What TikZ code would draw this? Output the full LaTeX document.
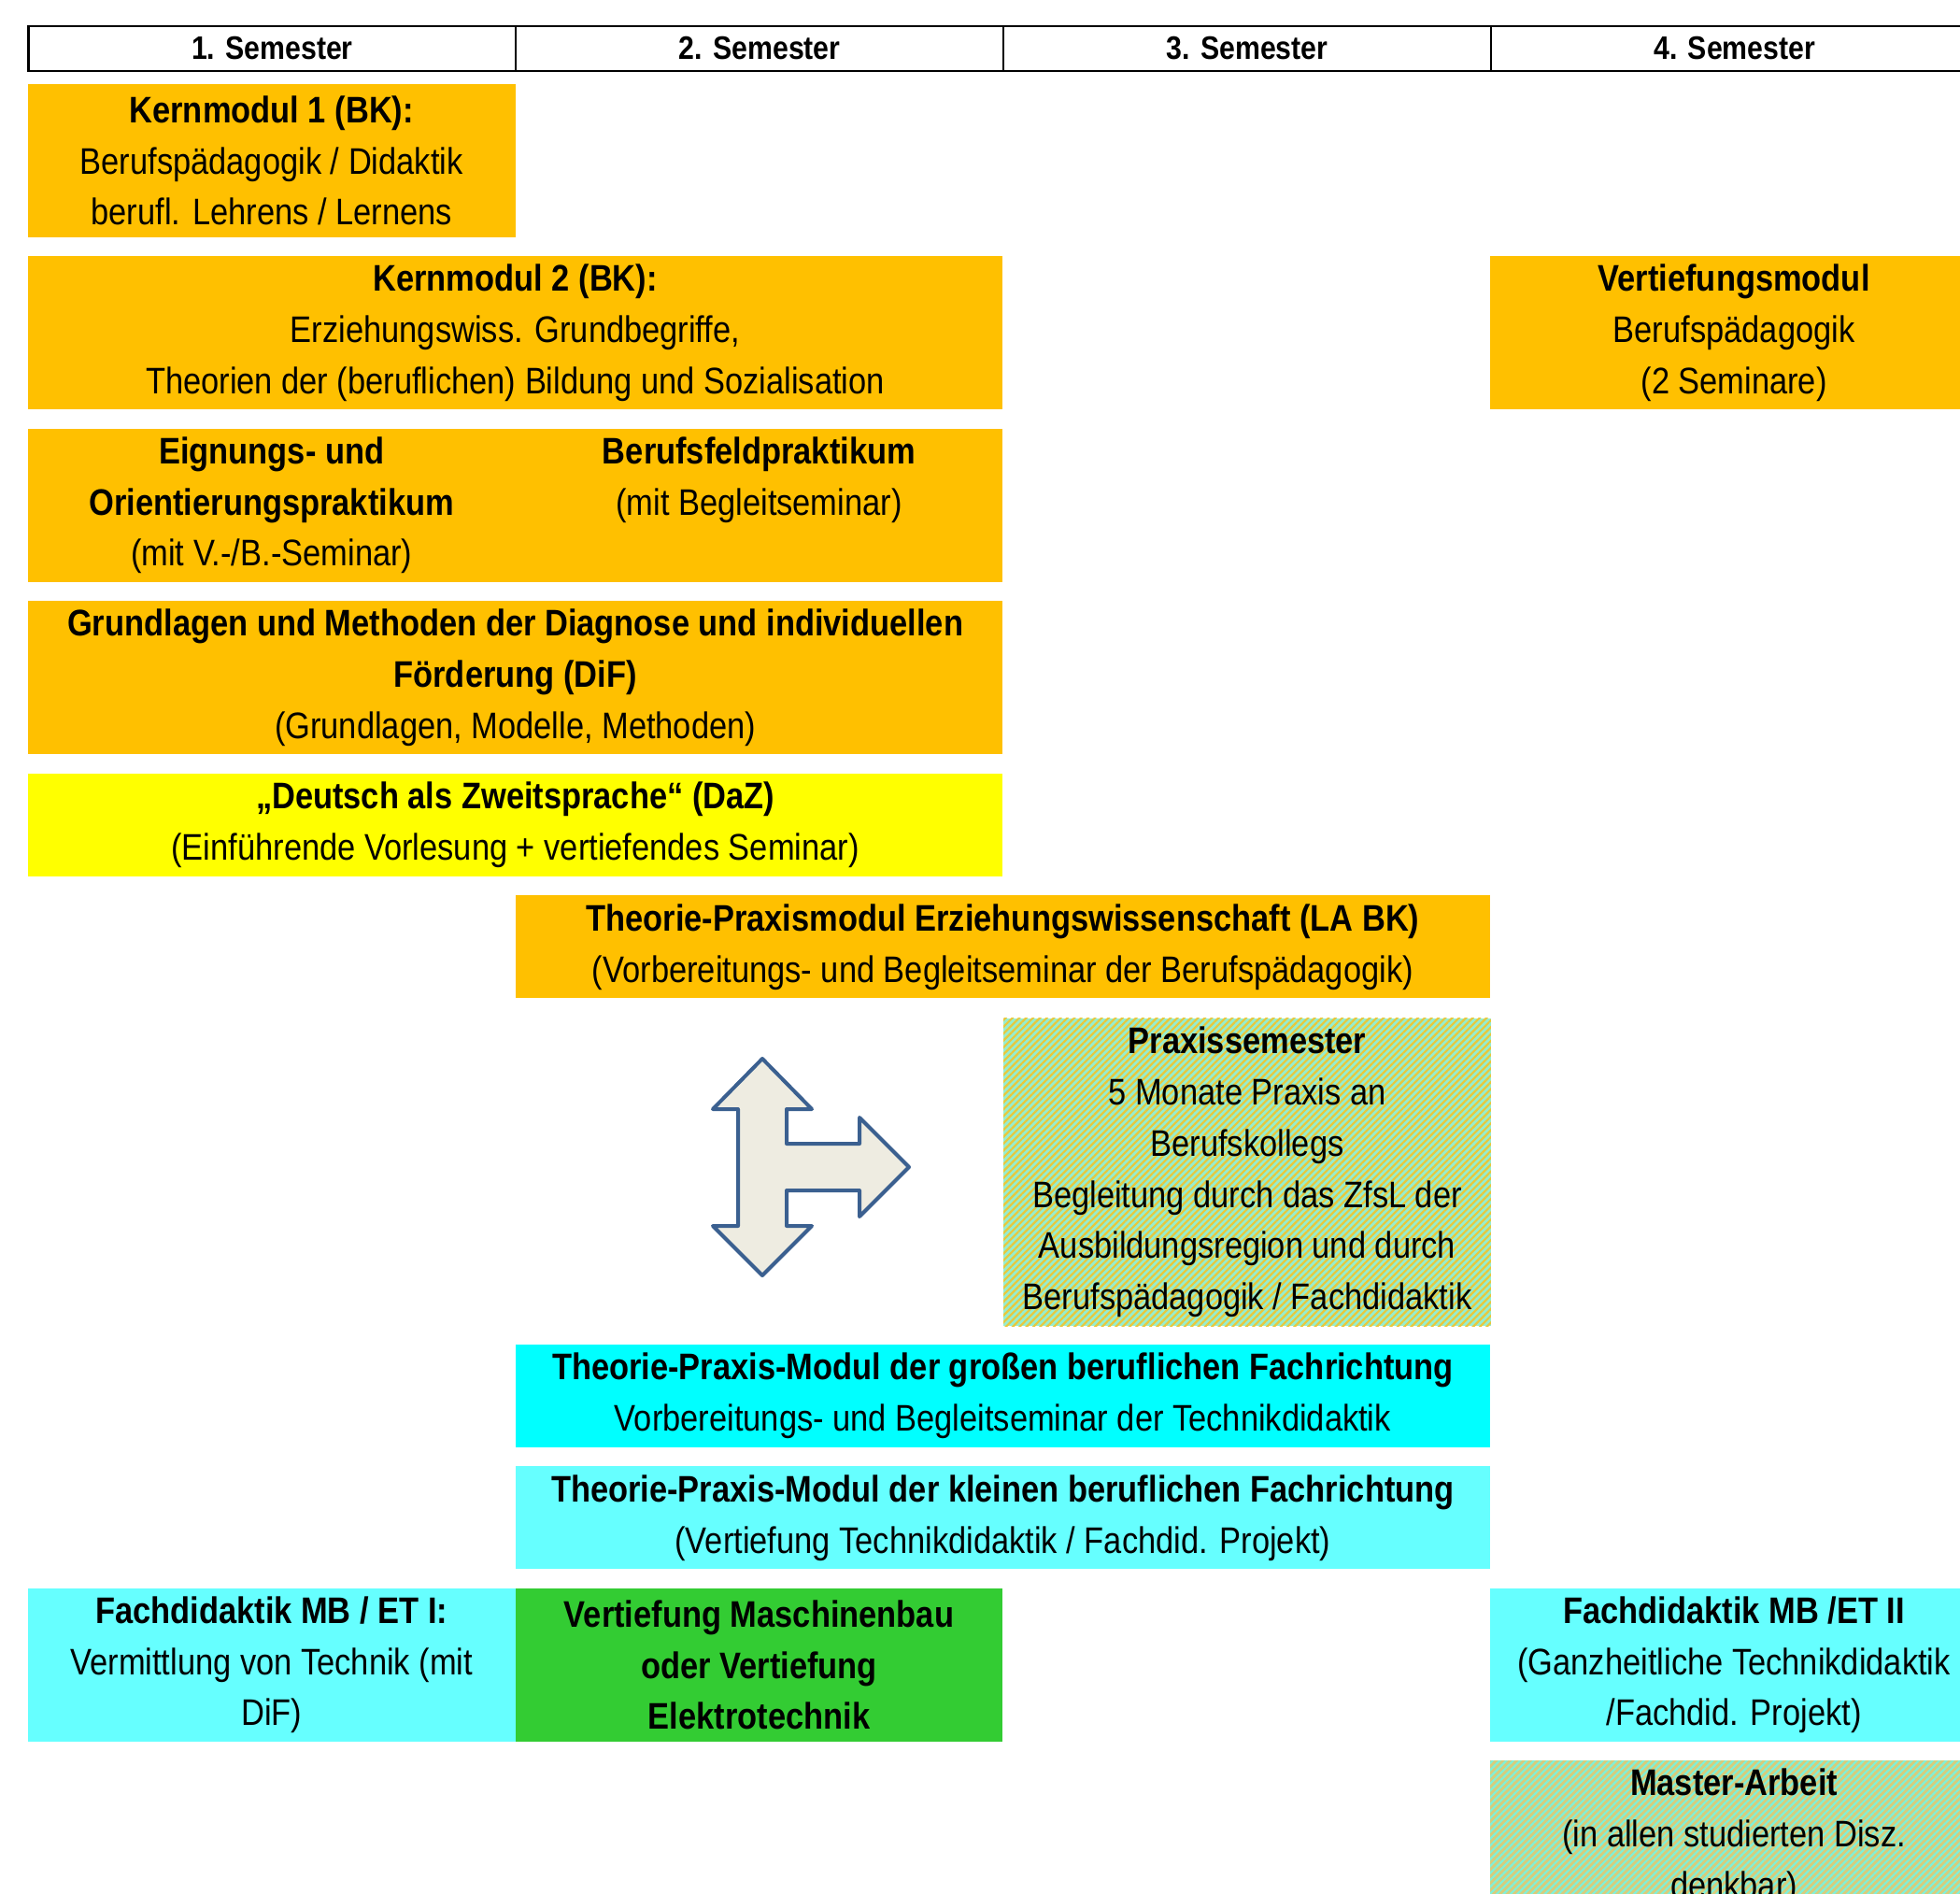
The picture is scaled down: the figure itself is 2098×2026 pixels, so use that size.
\documentclass[tikz,border=0pt]{standalone}
\usepackage{fontspec}
\setmainfont[FakeStretch=0.87]{Liberation Sans}
\usetikzlibrary{patterns.meta}
\definecolor{kernorange}{HTML}{FFC000}
\definecolor{dazyellow}{HTML}{FFFF00}
\definecolor{tpcyan}{HTML}{00FFFF}
\definecolor{fdcyan}{HTML}{66FFFF}
\definecolor{vtgreen}{HTML}{33CC33}
\definecolor{prxbase}{HTML}{96EDCF}
\definecolor{prxline}{HTML}{E9C83A}
\definecolor{mabase}{HTML}{D8CC7A}
\definecolor{maline}{HTML}{80F0D8}
\definecolor{arrowblue}{HTML}{3B6090}
\definecolor{arrowfill}{HTML}{EEECE1}
\tikzset{
  semester/.style={draw, line width=1.1pt, inner sep=0pt, anchor=north west, minimum width=260.9pt, minimum height=24pt, font=\fontsize{17.4pt}{20pt}\selectfont\bfseries},
  modul/.style={inner sep=0pt, anchor=north west, align=center, minimum width=260.9pt, minimum height=82pt, font=\fontsize{19.8pt}{27.4pt}\selectfont},
  wide/.style={minimum width=521.8pt},
  flat/.style={minimum height=55pt},
  hatch/.style={preaction={fill=#1base}, pattern={Lines[angle=45,distance=2.6pt,line width=1.1pt]}, pattern color=#1line},
  arrowline/.style={draw=arrowblue, fill=arrowfill, line width=2pt, line join=round}
}
\begin{document}
\begin{tikzpicture}[x=0.5pt,y=-0.5pt]
\useasboundingbox (0,0) rectangle (2098,2026);
\node[semester] (sem1) at (29.4,26.8) {1. Semester};
\node[semester] (sem2) at (551.2,26.8) {2. Semester};
\node[semester] (sem3) at (1073,26.8) {3. Semester};
\node[semester] (sem4) at (1594.8,26.8) {4. Semester};
\node[modul, fill=kernorange] (km1) at (29.4,89.6) {\textbf{Kernmodul 1 (BK):}\\Berufspädagogik / Didaktik\\berufl. Lehrens / Lernens};
\node[modul, wide, fill=kernorange] (km2) at (29.4,274) {\textbf{Kernmodul 2 (BK):}\\Erziehungswiss. Grundbegriffe,\\Theorien der (beruflichen) Bildung und Sozialisation};
\node[modul, fill=kernorange] (vtm) at (1594.8,274) {\textbf{Vertiefungsmodul}\\Berufspädagogik\\(2 Seminare)};
\node[modul, fill=kernorange] (eop) at (29.4,458.5) {\textbf{Eignungs- und}\\\textbf{Orientierungspraktikum}\\(mit V.-/B.-Seminar)};
\node[modul, fill=kernorange] (bfp) at (551.2,458.5) {\textbf{Berufsfeldpraktikum}\\(mit Begleitseminar)\\\vphantom{()}};
\node[modul, wide, fill=kernorange] (dif) at (29.4,643) {\textbf{Grundlagen und Methoden der Diagnose und individuellen}\\\textbf{Förderung (DiF)}\\(Grundlagen, Modelle, Methoden)};
\node[modul, wide, flat, fill=dazyellow] (daz) at (29.4,827.5) {\textbf{„Deutsch als Zweitsprache“ (DaZ)}\\(Einführende Vorlesung + vertiefendes Seminar)};
\node[modul, wide, flat, fill=kernorange] (tpew) at (551.2,958) {\textbf{Theorie-Praxismodul Erziehungswissenschaft (LA BK)}\\(Vorbereitungs- und Begleitseminar der Berufspädagogik)};
\node[modul, minimum height=164.75pt, hatch=prx] (prax) at (1073,1088.5) {\textbf{Praxissemester}\\5 Monate Praxis an\\Berufskollegs\\Begleitung durch das ZfsL der\\Ausbildungsregion und durch\\Berufspädagogik / Fachdidaktik};
\node[modul, wide, flat, fill=tpcyan] (tpgr) at (551.2,1438.5) {\textbf{Theorie-Praxis-Modul der großen beruflichen Fachrichtung}\\Vorbereitungs- und Begleitseminar der Technikdidaktik};
\node[modul, wide, flat, fill=fdcyan] (tpkl) at (551.2,1569) {\textbf{Theorie-Praxis-Modul der kleinen beruflichen Fachrichtung}\\(Vertiefung Technikdidaktik / Fachdid. Projekt)};
\node[modul, fill=fdcyan] (fd1) at (29.4,1699.5) {\textbf{Fachdidaktik MB / ET I:}\\Vermittlung von Technik (mit\\DiF)};
\node[modul, fill=vtgreen] (vmb) at (551.2,1699.5) {\textbf{Vertiefung Maschinenbau}\\\textbf{oder Vertiefung}\\\textbf{Elektrotechnik}};
\node[modul, fill=fdcyan] (fd2) at (1594.8,1699.5) {\textbf{Fachdidaktik MB /ET II}\\(Ganzheitliche Technikdidaktik\\/Fachdid. Projekt)};
\node[modul, hatch=ma] (ma) at (1594.8,1884) {\textbf{Master-Arbeit}\\(in allen studierten Disz.\\denkbar)};
\draw[arrowline, shift={(816,1249)}] (0,-116) -- (53,-62) -- (26,-62) -- (26,-25) -- (104,-25) -- (104,-53) -- (157,0) -- (104,53) -- (104,25) -- (26,25) -- (26,63) -- (53,63) -- (0,116) -- (-53,63) -- (-26,63) -- (-26,-62) -- (-53,-62) -- cycle;
\end{tikzpicture}
\end{document}
